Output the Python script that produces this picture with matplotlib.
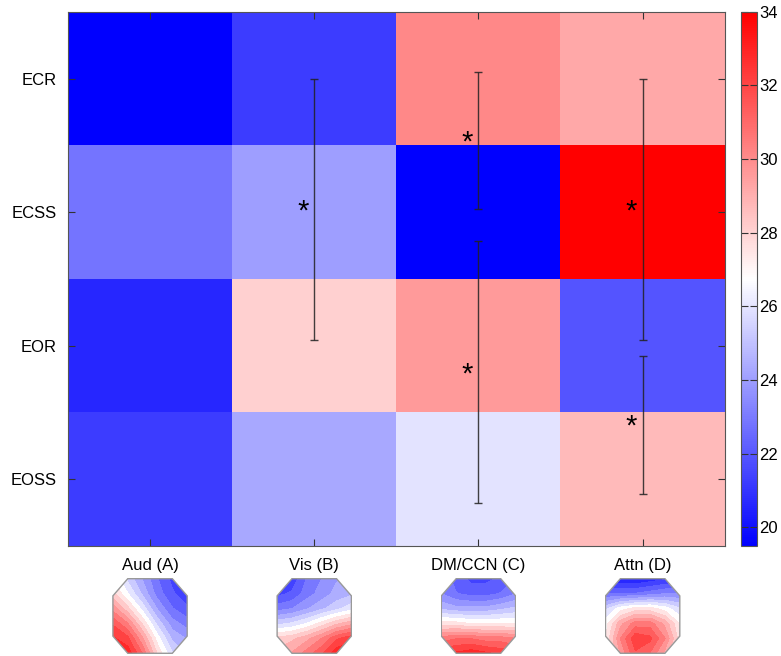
import numpy as np
import matplotlib
matplotlib.use("Agg")
import matplotlib.pyplot as plt
from matplotlib.patches import Polygon

plt.rcParams['font.family'] = ['Liberation Sans', 'DejaVu Sans']

conditions = ['ECR', 'ECSS', 'EOR', 'EOSS']
networks = ['Aud (A)', 'Vis (B)', 'DM/CCN (C)', 'Attn (D)']

# heatmap values (rows = conditions, cols = networks)
ecr = [19.5, 21.2, 30.1, 29.2]
ecss = [22.8, 24.0, 19.5, 34.0]
eor = [20.6, 28.1, 29.6, 21.9]
eoss = [21.2, 24.3, 26.0, 28.7]

# significance bars: column index, start row, end row
bar_col = [1, 2, 2, 3, 3]
bar_lo = [0.0, -0.05, 1.22, 0.0, 2.08]
bar_hi = [1.96, 0.98, 3.18, 1.96, 3.11]

# coarse scalp maps (top row first) for the octagon topographies
topo_aud = [[0.05, -0.2, -0.4, -0.6, -0.75, -0.8],
            [0.2, -0.05, -0.3, -0.55, -0.7, -0.8],
            [0.45, 0.2, -0.1, -0.4, -0.6, -0.7],
            [0.7, 0.5, 0.15, -0.2, -0.45, -0.55],
            [0.85, 0.75, 0.4, 0.0, -0.3, -0.4],
            [0.95, 0.9, 0.6, 0.15, -0.15, -0.3]]
topo_vis = [[-0.8, -0.8, -0.6, -0.5, -0.4, -0.35],
            [-0.75, -0.7, -0.55, -0.45, -0.35, -0.3],
            [-0.55, -0.5, -0.4, -0.3, -0.2, -0.1],
            [-0.2, -0.15, -0.05, 0.1, 0.25, 0.35],
            [0.2, 0.25, 0.35, 0.5, 0.7, 0.8],
            [0.3, 0.4, 0.55, 0.7, 0.9, 0.95]]
topo_dm = [[-0.55, -0.65, -0.75, -0.75, -0.7, -0.6],
           [-0.5, -0.6, -0.65, -0.65, -0.6, -0.5],
           [-0.3, -0.35, -0.35, -0.35, -0.3, -0.25],
           [0.1, 0.1, 0.05, 0.05, 0.05, 0.05],
           [0.55, 0.6, 0.6, 0.55, 0.55, 0.5],
           [0.8, 0.85, 0.9, 0.85, 0.8, 0.75]]
topo_attn = [[-0.9, -0.95, -0.95, -0.9, -0.85, -0.8],
             [-0.6, -0.6, -0.6, -0.55, -0.5, -0.5],
             [-0.2, 0.0, 0.1, 0.1, 0.0, -0.15],
             [0.0, 0.35, 0.55, 0.55, 0.35, 0.05],
             [0.05, 0.5, 0.8, 0.75, 0.5, 0.1],
             [0.0, 0.4, 0.7, 0.6, 0.35, 0.05]]

data = np.array([ecr, ecss, eor, eoss])

fig = plt.figure(figsize=(7.81, 6.56), dpi=100)
ax = fig.add_axes([0.087, 0.168, 0.841, 0.814])
im = ax.imshow(data, cmap='bwr', vmin=19.5, vmax=34, aspect='auto',
               interpolation='nearest')

ax.set_yticks(range(4))
ax.set_yticklabels(conditions, fontsize=12)
ax.set_xticks(range(4))
ax.set_xticklabels(networks, fontsize=12)
ax.tick_params(direction='in', length=5, color='#333333', top=True, right=True, pad=9)
ax.tick_params(axis='y', pad=8)
for s in ax.spines.values():
    s.set_color('#555555')
    s.set_linewidth(0.8)

for c, lo, hi in zip(bar_col, bar_lo, bar_hi):
    mid = (lo + hi) / 2
    ax.errorbar([c], [mid], yerr=[[mid - lo], [hi - mid]], fmt='none',
                ecolor='#222222', elinewidth=1.0, capsize=3, capthick=1.0, alpha=0.85)
    ax.text(c - 0.07, mid + 0.015, '*', fontsize=21, ha='center', va='center', color='black')

cax = fig.add_axes([0.949, 0.168, 0.02, 0.814])
cb = fig.colorbar(im, cax=cax, ticks=range(20, 35, 2))
cb.ax.tick_params(direction='in', length=5, labelsize=12, left=True, right=True,
                  color='#333333', pad=2)
cb.outline.set_edgecolor('#555555')
cb.outline.set_linewidth(0.8)

# octagon topographies under each column
octo = [(0.2, 0.0), (0.8, 0.0), (1.0, 0.23), (1.0, 0.77),
        (0.8, 1.0), (0.2, 1.0), (0.0, 0.77), (0.0, 0.23)]
topos = [topo_aud, topo_vis, topo_dm, topo_attn]
for j, t in enumerate(topos):
    cx = 0.087 + 0.841 * (j + 0.5) / 4
    tw, th = 0.097, 0.116
    tax = fig.add_axes([cx - tw / 2, 0.003, tw, th])
    z = np.array(t)[::-1]
    g = np.linspace(0, 1, z.shape[0])
    cs = tax.contourf(g, g, z, levels=np.linspace(-1.05, 1.05, 20), cmap='bwr')
    poly = Polygon(octo, closed=True, transform=tax.transData,
                   facecolor='none', edgecolor='#999999', linewidth=1.0)
    tax.add_patch(poly)
    cs.set_clip_path(poly)
    tax.set_xlim(-0.01, 1.01)
    tax.set_ylim(-0.01, 1.01)
    tax.axis('off')

fig.savefig('out.png', dpi=100)
